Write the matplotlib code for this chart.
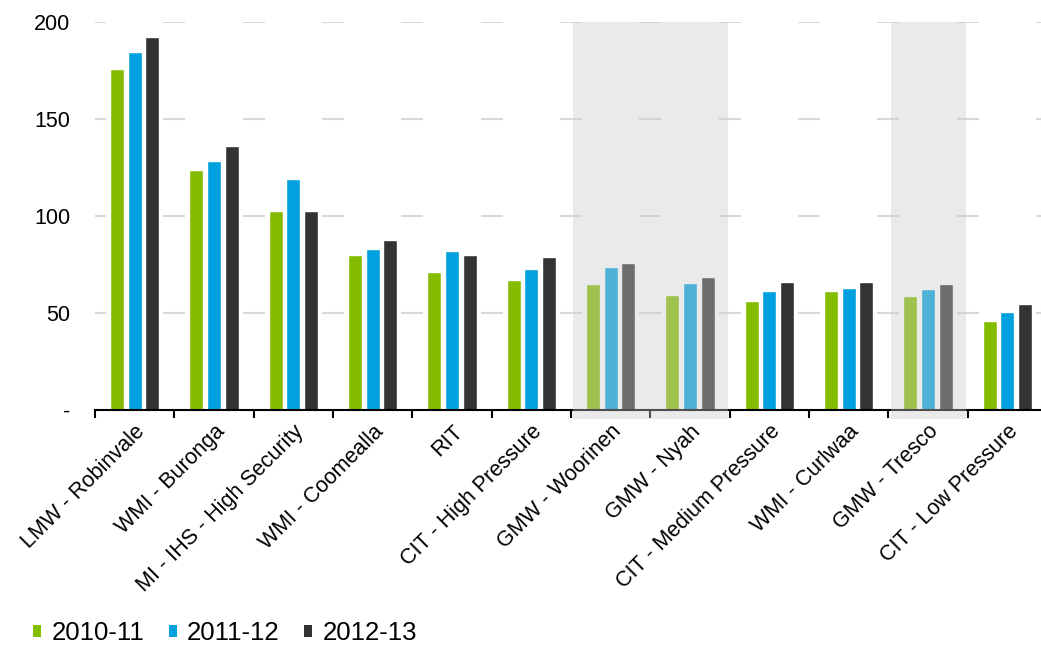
import matplotlib
matplotlib.use("Agg")
import matplotlib.pyplot as plt
from matplotlib.patches import Rectangle, Patch
import numpy as np

categories = ["LMW - Robinvale", "WMI - Buronga", "MI - IHS - High Security",
              "WMI - Coomealla", "RIT", "CIT - High Pressure", "GMW - Woorinen",
              "GMW - Nyah", "CIT - Medium Pressure", "WMI - Curlwaa",
              "GMW - Tresco", "CIT - Low Pressure"]
series_names = ["2010-11", "2011-12", "2012-13"]
v2010 = [176.0, 123.6, 102.8, 79.8, 71.2, 67.2, 64.8, 59.5, 56.1, 61.4, 58.8, 46.1]
v2011 = [184.4, 128.2, 119.0, 82.9, 81.8, 72.9, 73.6, 65.3, 61.2, 63.1, 62.6, 50.6]
v2012 = [192.2, 136.1, 102.4, 87.7, 80.1, 78.9, 76.0, 68.3, 66.2, 66.2, 64.7, 54.5]
shaded = ["GMW - Woorinen", "GMW - Nyah", "GMW - Tresco"]
ytick_vals = [0, 50, 100, 150, 200]
ytick_labels = ["-", "50", "100", "150", "200"]

colors = ["#84BC00", "#00A1DE", "#333333"]

plt.rcParams['font.family'] = ['Liberation Sans', 'DejaVu Sans']

W, H = 1041, 646
fig = plt.figure(figsize=(W / 100, H / 100), dpi=100)
left_px, right_px, bottom_px, top_px = 95, 1047, 410, 22
ax = fig.add_axes([left_px / W, 1 - bottom_px / H,
                   (right_px - left_px) / W, (bottom_px - top_px) / H])

x = np.arange(len(categories))
ax.set_xlim(-0.5, len(categories) - 0.5)
ax.set_ylim(0, 200)

# gridlines
for v in ytick_vals[1:]:
    ax.axhline(v, color="#D9D9D9", lw=1.5, zorder=0)

# white backing behind each group (hides gridlines between bars)
for xi in x:
    ax.add_patch(Rectangle((xi - 0.36, 0), 0.72, 200, facecolor="white",
                           edgecolor="none", zorder=1))

offsets = [-0.223, 0.0, 0.223]
for vals, off, c, name in zip([v2010, v2011, v2012], offsets, colors, series_names):
    ax.bar(x + off, vals, width=0.18, color=c, edgecolor="white", lw=1.0,
           zorder=2, label=name)

# shading overlay for highlighted categories (contiguous runs merged)
idx = sorted(categories.index(n) for n in shaded)
runs = []
for i in idx:
    if runs and runs[-1][1] == i - 1:
        runs[-1][1] = i
    else:
        runs.append([i, i])
for a, b in runs:
    x0 = a - 0.5 + 0.03
    x1 = b + 0.5 - 0.015
    ax.add_patch(Rectangle((x0, -4.6), x1 - x0, 204.6,
                           facecolor="#CBCBCB", alpha=0.39, edgecolor="none",
                           zorder=5, clip_on=False))

for s in ["top", "right", "left"]:
    ax.spines[s].set_visible(False)
ax.spines["bottom"].set_linewidth(1.5)
ax.spines["bottom"].set_color("black")
ax.spines["bottom"].set_zorder(3)

ax.set_yticks(ytick_vals, ytick_labels)
ax.tick_params(axis="y", length=0, pad=18, labelsize=15.5)

ax.set_xticks(x, categories, rotation=45, ha="right", rotation_mode="anchor")
ax.tick_params(axis="x", which="major", length=0, pad=8, labelsize=15.5)
ax.set_xticks(np.arange(-0.5, len(categories)), minor=True)
ax.tick_params(axis="x", which="minor", length=6, width=1.5, direction="out")

handles = [Patch(facecolor=c, edgecolor="none") for c in colors]
fig.legend(handles, series_names, loc="center left",
           bbox_to_anchor=(33 / W, 1 - 633 / H), frameon=False,
           ncol=3, fontsize=18.5, handlelength=0.32, handleheight=0.32,
           handletextpad=0.4, columnspacing=0.95, borderpad=0, borderaxespad=0)

fig.savefig("out.png", dpi=100)
